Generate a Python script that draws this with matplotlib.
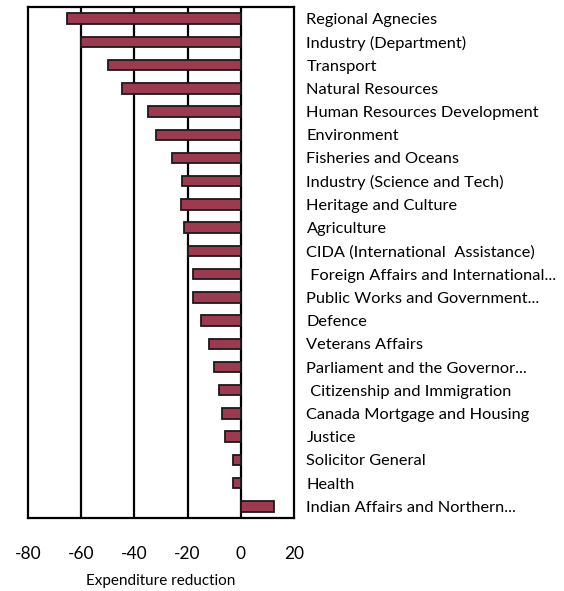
import matplotlib
matplotlib.use("Agg")
import matplotlib.pyplot as plt

categories = [
    "Regional Agnecies",
    "Industry (Department)",
    "Transport",
    "Natural Resources",
    "Human Resources Development",
    "Environment",
    "Fisheries and Oceans",
    "Industry (Science and Tech)",
    "Heritage and Culture",
    "Agriculture",
    "CIDA (International  Assistance)",
    " Foreign Affairs and International...",
    "Public Works and Government...",
    "Defence",
    "Veterans Affairs",
    "Parliament and the Governor...",
    " Citizenship and Immigration",
    "Canada Mortgage and Housing",
    "Justice",
    "Solicitor General",
    "Health",
    "Indian Affairs and Northern...",
]
values = [-65.4, -60.0, -50.0, -44.8, -35.0, -31.7, -26.0, -22.0, -22.3, -21.3,
          -19.8, -17.9, -17.9, -15.0, -12.0, -10.0, -8.2, -6.9, -5.9, -3.1,
          -3.1, 12.4]
xticks = [-80, -60, -40, -20, 0, 20]

plt.rcParams['font.family'] = ['Lato', 'DejaVu Sans']

fig = plt.figure(figsize=(5.64, 5.91), dpi=100)
ax = fig.add_axes([28/564, 1 - 518/591, (294-28)/564, (518-7)/591])

ypos = list(range(len(categories)))
ax.barh(ypos, values, height=0.45, color='#9e3a50', edgecolor='#1a1a1a',
        linewidth=1.3, zorder=3)

ax.set_xlim(-80, 20)
ax.set_ylim(len(categories) - 0.5, -0.5)
ax.set_xticks(xticks)
ax.set_xticklabels([str(t) for t in xticks], fontsize=12.5)
for x in [-60, -40, -20, 0]:
    ax.axvline(x, color='black', linewidth=1.6, zorder=2)

ax.set_yticks(ypos)
ax.set_yticklabels(categories, fontsize=11.8)
ax.yaxis.tick_right()
ax.tick_params(axis='y', length=0, pad=9)
ax.tick_params(axis='x', length=0, pad=20)
for s in ax.spines.values():
    s.set_linewidth(1.6)
    s.set_color('black')

ax.set_xlabel("Expenditure reduction", fontsize=11, labelpad=9)

fig.savefig("out.png", dpi=100)
